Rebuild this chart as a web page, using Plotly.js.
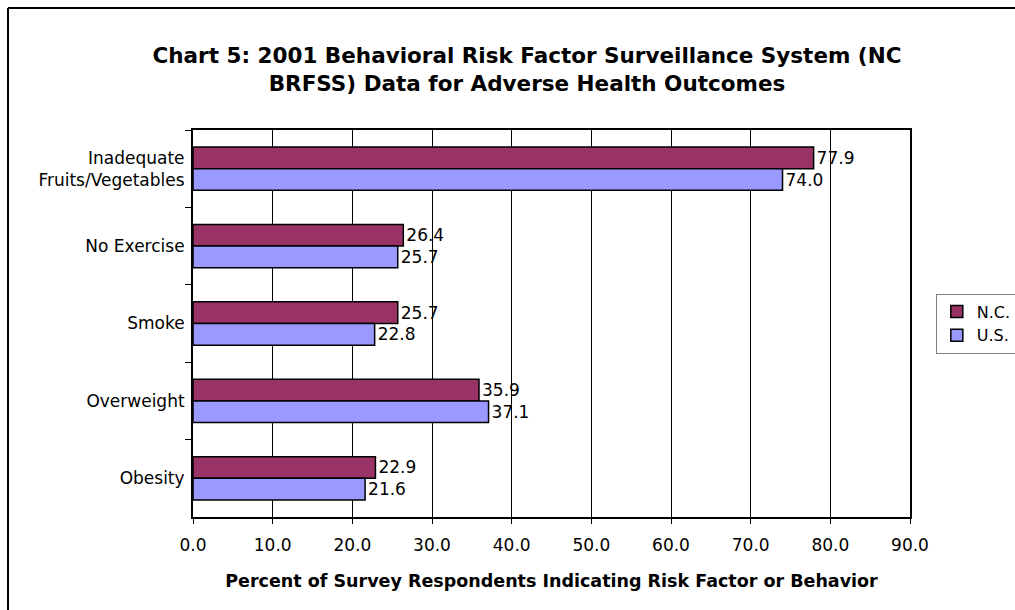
<!DOCTYPE html>
<html>
<head>
<meta charset="utf-8">
<script src="https://cdn.plot.ly/plotly-3.0.1.min.js"></script>
<style>
  html, body { margin: 0; padding: 0; background: #fff; overflow: hidden; }
  #chart { width: 1060px; height: 610px; }
</style>
</head>
<body>
<div id="chart"></div>
<script>
// Adverse health outcome categories, top to bottom
const categories = [
  "Inadequate<br>Fruits/Vegetables",
  "No Exercise",
  "Smoke",
  "Overweight",
  "Obesity"
];
// Percent of respondents, North Carolina vs. United States
const ncValues = [77.9, 26.4, 25.7, 35.9, 22.9];
const usValues = [74.0, 25.7, 22.8, 37.1, 21.6];
const seriesNames = ["N.C.", "U.S."];
const xTickValues = [0, 10, 20, 30, 40, 50, 60, 70, 80, 90];
const xTickLabels = ["0.0", "10.0", "20.0", "30.0", "40.0", "50.0", "60.0", "70.0", "80.0", "90.0"];

const baseFont = "DejaVu Sans, Verdana, sans-serif";

function barTrace(name, values, color) {
  return {
    type: "bar",
    orientation: "h",
    name: name,
    y: categories,
    x: values,
    text: values.map(v => v.toFixed(1)),
    textposition: "outside",
    cliponaxis: false,
    textfont: { family: baseFont, size: 17, color: "#000" },
    marker: { color: color, line: { color: "#000", width: 1.5 } },
    hoverinfo: "x+name"
  };
}

const data = [
  barTrace(seriesNames[0], ncValues, "#993366"),
  barTrace(seriesNames[1], usValues, "#9999FF")
];

// The figure is a little wider than the window; the legend sits against the right edge
const layout = {
  width: 1060,
  height: 610,
  paper_bgcolor: "#fff",
  plot_bgcolor: "#fff",
  margin: { l: 193, r: 150, t: 130, b: 93 },
  font: { family: baseFont, size: 17, color: "#000" },
  title: {
    text: "<b>Chart 5: 2001 Behavioral Risk Factor Surveillance System (NC<br>BRFSS) Data for Adverse Health Outcomes</b>",
    font: { family: baseFont, size: 21.5, color: "#000" },
    x: 527 / 1060,
    xanchor: "center",
    y: 1 - 63 / 610,
    yanchor: "middle"
  },
  barmode: "group",
  bargap: 0.44,
  bargroupgap: 0,
  showlegend: true,
  legend: {
    x: 1.036,
    xanchor: "left",
    y: 0.5,
    yanchor: "middle",
    bordercolor: "#808080",
    borderwidth: 1,
    bgcolor: "#fff",
    font: { family: baseFont, size: 16, color: "#000" },
    traceorder: "normal",
    itemwidth: 30,
    tracegroupgap: 0
  },
  xaxis: {
    range: [0, 90],
    tickmode: "array",
    tickvals: xTickValues,
    ticktext: xTickLabels,
    ticks: "outside",
    ticklen: 5,
    tickcolor: "#000",
    ticklabelstandoff: 7,
    tickfont: { family: baseFont, size: 17, color: "#000" },
    showgrid: true,
    gridcolor: "#000",
    gridwidth: 1,
    showline: true,
    linecolor: "#000",
    linewidth: 2,
    mirror: true,
    zeroline: false,
    title: {
      text: "<b>Percent of Survey Respondents Indicating Risk Factor or Behavior</b>",
      font: { family: baseFont, size: 17.5, color: "#000" },
      standoff: 20
    }
  },
  yaxis: {
    type: "category",
    autorange: "reversed",
    tickson: "boundaries",
    ticks: "outside",
    ticklen: 6,
    tickcolor: "#000",
    ticklabelstandoff: 3,
    tickfont: { family: baseFont, size: 17, color: "#000" },
    showgrid: false,
    showline: true,
    linecolor: "#000",
    linewidth: 2,
    mirror: true,
    zeroline: false
  },
  shapes: [
    {
      type: "line", xref: "paper", yref: "paper",
      x0: -0.258, x1: 1.6, y0: 1.315, y1: 1.315,
      line: { color: "#000", width: 2 }
    },
    {
      type: "line", xref: "paper", yref: "paper",
      x0: -0.258, x1: -0.258, y0: 1.315, y1: -0.5,
      line: { color: "#000", width: 2 }
    }
  ]
};

Plotly.newPlot("chart", data, layout, { displayModeBar: false, staticPlot: true });
</script>
</body>
</html>
